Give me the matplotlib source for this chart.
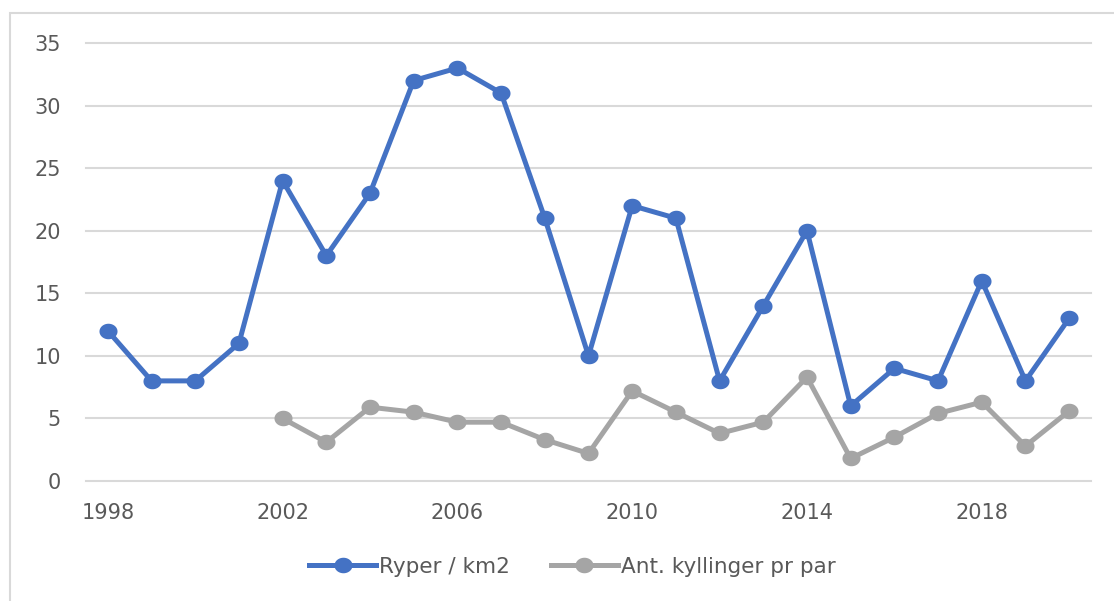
import numpy as np
import matplotlib.pyplot as plt
from matplotlib.patches import Rectangle
from matplotlib.path import Path

years = list(range(1998, 2021))
ryper = [12, 8, 8, 11, 24, 18, 23, 32, 33, 31, 21, 10, 22, 21, 8, 14, 20, 6, 9, 8, 16, 8, 13]
kyll_years = list(range(2002, 2021))
kyllinger = [5.0, 3.1, 5.9, 5.5, 4.7, 4.7, 3.3, 2.2, 7.2, 5.5, 3.8, 4.7, 8.3, 1.8, 3.5, 5.4, 6.3, 2.8, 5.6]
tick_years = [1998, 2002, 2006, 2010, 2014, 2018]

plt.rcParams['font.family'] = ['DejaVu Sans']
txt = '#595959'
blue = '#4472C4'
grey = '#A5A5A5'

# the source picture is a bit stretched sideways, so the dots are slightly oval
t = np.linspace(0, 2 * np.pi, 60)
oval = Path(np.column_stack([np.cos(t), 0.86 * np.sin(t)]), closed=True)

fig = plt.figure(figsize=(11.14, 6.01), dpi=100)
# chart frame like the Excel chart area
fig.patches.append(Rectangle((10 / 1114, -0.1), 1.2, 1.1 - 13 / 601,
                             transform=fig.transFigure, fill=False,
                             edgecolor='#D9D9D9', linewidth=1.5))

ax = fig.add_axes([86 / 1114, 1 - 481 / 601, (1091 - 86) / 1114, (481 - 43) / 601])

ax.plot(years, ryper, color=blue, linewidth=3.6, marker=oval, markersize=13,
        markeredgewidth=0, label='Ryper / km2', solid_joinstyle='round',
        clip_on=False, zorder=3)
ax.plot(kyll_years, kyllinger, color=grey, linewidth=3.6, marker=oval, markersize=13,
        markeredgewidth=0, label='Ant. kyllinger pr par', solid_joinstyle='round',
        clip_on=False, zorder=3)

ax.set_xlim(1997.5, 2020.5)
ax.set_ylim(0, 35)
ax.set_yticks(np.arange(0, 36, 5))
ax.set_xticks(tick_years)
ax.grid(axis='y', color='#D9D9D9', linewidth=1.5)
for gl in ax.yaxis.get_gridlines():
    gl.set_clip_on(False)
ax.set_axisbelow(True)
for s in ax.spines.values():
    s.set_visible(False)
ax.tick_params(axis='both', length=0, labelsize=15, colors=txt)
ax.tick_params(axis='y', pad=18)
ax.tick_params(axis='x', pad=16)

fig.legend(loc='center', bbox_to_anchor=(0.514, 1 - 567 / 601), ncol=2, frameon=False,
           fontsize=15.5, labelcolor=txt, handlelength=3.1, handletextpad=0.15,
           columnspacing=1.9)

fig.savefig('out.png', dpi=100)
